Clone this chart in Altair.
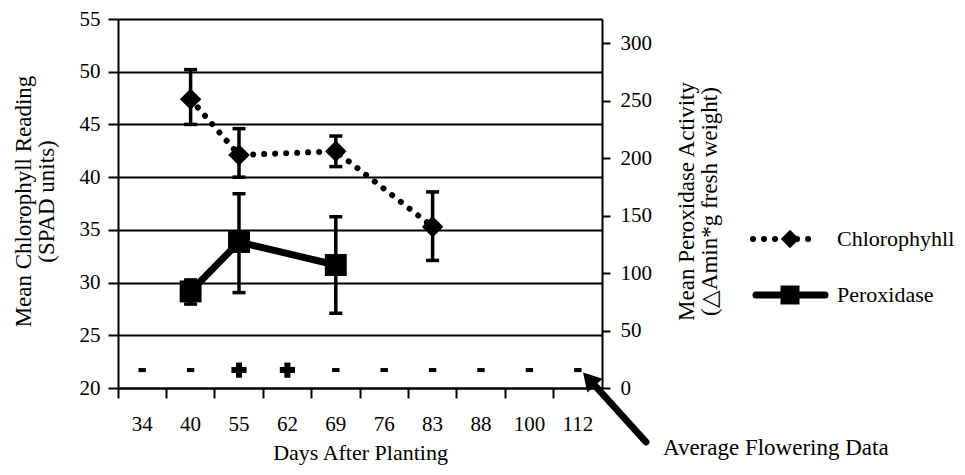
import altair as alt
import pandas as pd

# ---------------- data ----------------
days = ["34", "40", "55", "62", "69", "76", "83", "88", "100", "112"]
signs = ["-", "-", "+", "+", "-", "-", "-", "-", "-", "-"]
sign_level = 21.7

chl_days = ["40", "55", "69", "83"]
chl_mean = [47.4, 42.1, 42.45, 35.3]
chl_low = [45.0, 40.0, 41.0, 32.1]
chl_high = [50.2, 44.6, 43.9, 38.6]

per_days = ["40", "55", "69"]
per_mean = [84, 127, 107]
per_low = [73, 83, 65]
per_high = [94, 169, 149]

left_ticks = [20, 25, 30, 35, 40, 45, 50, 55]
right_ticks = [0, 50, 100, 150, 200, 250, 300]

chl_df = pd.DataFrame({"day": chl_days, "mean": chl_mean, "low": chl_low, "high": chl_high})
per_df = pd.DataFrame({"day": per_days, "mean": per_mean, "low": per_low, "high": per_high})
sign_df = pd.DataFrame({"day": days, "sign": signs, "level": [sign_level] * len(days)})
one = pd.DataFrame({"a": [0]})

FONT = "Liberation Serif"
BLACK = "black"

x_scale = alt.Scale(domain=days, paddingInner=0, paddingOuter=0)
x_axis = alt.Axis(
    bandPosition=0, tickSize=10, tickWidth=2, tickColor=BLACK,
    domainColor=BLACK, domainWidth=2, labelAngle=0, labelPadding=15,
    labelFont=FONT, labelFontSize=21, labelColor=BLACK,
    title="Days After Planting", titleFont=FONT, titleFontSize=22,
    titleFontWeight="normal", titleColor=BLACK, titlePadding=8, grid=False,
)
X = alt.X("day:N", scale=x_scale, axis=x_axis, sort=days)

left_scale = alt.Scale(domain=[20, 55], nice=False, zero=False)
left_axis = alt.Axis(
    orient="left", values=left_ticks, grid=True, gridColor=BLACK, gridWidth=1.8,
    gridOpacity=1, domainColor=BLACK, domainWidth=2, tickColor=BLACK, tickWidth=2,
    tickSize=10, labelPadding=8, labelFont=FONT, labelFontSize=21, labelColor=BLACK,
    title=["Mean Chlorophyll Reading", "(SPAD units)"], titleFont=FONT,
    titleFontSize=23, titleFontWeight="normal", titleColor=BLACK, titleAngle=270,
    titleBaseline="bottom", titleX=-83, titleY=182, titleLineHeight=23,
)
right_scale = alt.Scale(domain=[0, 321], nice=False, zero=False)
right_axis = alt.Axis(
    orient="right", values=right_ticks, grid=False, domainColor=BLACK, domainWidth=2,
    tickColor=BLACK, tickWidth=2, tickSize=8, labelPadding=10, labelFont=FONT,
    labelFontSize=21, labelColor=BLACK,
    title=["Mean Peroxidase Activity", "(\u25b3Amin*g fresh weight)"],
    titleFont=FONT, titleFontSize=23, titleFontWeight="normal", titleColor=BLACK,
    titleAngle=270, titleBaseline="top", titleX=73, titleY=182, titleLineHeight=23,
)

YL = alt.Y("mean:Q", scale=left_scale, axis=left_axis)

# ---------------- chlorophyll (left axis) ----------------
chl_base = alt.Chart(chl_df)
chl_line = chl_base.mark_line(color=BLACK, strokeWidth=6, strokeDash=[0.01, 11], strokeCap="round").encode(x=X, y=YL)
chl_err = chl_base.mark_rule(color=BLACK, strokeWidth=3.5).encode(
    x=X, y=alt.Y("low:Q", scale=left_scale, axis=left_axis), y2="high:Q")
chl_cap_lo = chl_base.mark_tick(color=BLACK, size=13, thickness=3.5, orient="horizontal", opacity=1).encode(
    x=X, y=alt.Y("low:Q", scale=left_scale, axis=left_axis))
chl_cap_hi = chl_base.mark_tick(color=BLACK, size=13, thickness=3.5, orient="horizontal", opacity=1).encode(
    x=X, y=alt.Y("high:Q", scale=left_scale, axis=left_axis))
chl_pts = chl_base.mark_point(shape="diamond", filled=True, color=BLACK, opacity=1, size=460).encode(x=X, y=YL)

signs_layer = alt.Chart(sign_df).mark_point(filled=True, color=BLACK, opacity=1).encode(
    x=X,
    y=alt.Y("level:Q", scale=left_scale, axis=left_axis),
    shape=alt.Shape("sign:N", scale=alt.Scale(domain=["+", "-"], range=["cross", "M-1,-0.55L1,-0.55L1,0.55L-1,0.55Z"]), legend=None),
    size=alt.Size("sign:N", scale=alt.Scale(domain=["+", "-"], range=[230, 55]), legend=None),
)

chl_group = alt.layer(chl_line, chl_err, chl_cap_lo, chl_cap_hi, chl_pts, signs_layer)

# ---------------- peroxidase (right axis) ----------------
YR = alt.Y("mean:Q", scale=right_scale, axis=right_axis)
per_base = alt.Chart(per_df)
per_line = per_base.mark_line(color=BLACK, strokeWidth=7).encode(x=X, y=YR)
per_err = per_base.mark_rule(color=BLACK, strokeWidth=3.5).encode(
    x=X, y=alt.Y("low:Q", scale=right_scale, axis=right_axis), y2="high:Q")
per_cap_lo = per_base.mark_tick(color=BLACK, size=13, thickness=3.5, orient="horizontal", opacity=1).encode(
    x=X, y=alt.Y("low:Q", scale=right_scale, axis=right_axis))
per_cap_hi = per_base.mark_tick(color=BLACK, size=13, thickness=3.5, orient="horizontal", opacity=1).encode(
    x=X, y=alt.Y("high:Q", scale=right_scale, axis=right_axis))
per_pts = per_base.mark_point(shape="square", filled=True, color=BLACK, opacity=1, size=480).encode(x=X, y=YR)
per_group = alt.layer(per_line, per_err, per_cap_lo, per_cap_hi, per_pts)

# ---------------- legend & annotation ----------------
ann = alt.Chart(one)
leg1_line = ann.mark_rule(color=BLACK, strokeWidth=6, strokeDash=[0.01, 11], strokeCap="round").encode(
    x=alt.value(635), x2=alt.value(701), y=alt.value(220))
leg1_pt = ann.mark_point(shape="diamond", filled=True, color=BLACK, opacity=1, size=340).encode(
    x=alt.value(672), y=alt.value(220))
leg1_txt = ann.mark_text(align="left", baseline="middle", font=FONT, fontSize=22, color=BLACK).encode(
    x=alt.value(719), y=alt.value(220), text=alt.value("Chlorophyhll"))
leg2_line = ann.mark_rule(color=BLACK, strokeWidth=7, strokeCap="round").encode(
    x=alt.value(638), x2=alt.value(707), y=alt.value(276))
leg2_pt = ann.mark_point(shape="square", filled=True, color=BLACK, opacity=1, size=360).encode(
    x=alt.value(672), y=alt.value(276))
leg2_txt = ann.mark_text(align="left", baseline="middle", font=FONT, fontSize=22, color=BLACK).encode(
    x=alt.value(719), y=alt.value(276), text=alt.value("Peroxidase"))

arrow_shaft = ann.mark_rule(color=BLACK, strokeWidth=7, strokeCap="round").encode(
    x=alt.value(471), y=alt.value(360), x2=alt.value(528), y2=alt.value(423))
arrow_head = ann.mark_point(shape="triangle-up", filled=True, color=BLACK, opacity=1, size=420, angle=318).encode(
    x=alt.value(471), y=alt.value(360))
arrow_txt = ann.mark_text(align="left", baseline="middle", font=FONT, fontSize=23, color=BLACK).encode(
    x=alt.value(545), y=alt.value(429), text=alt.value("Average Flowering Data"))

ann_group = alt.layer(leg1_line, leg1_pt, leg1_txt, leg2_line, leg2_pt, leg2_txt,
                      arrow_shaft, arrow_head, arrow_txt)

chart = alt.layer(chl_group, per_group, ann_group).resolve_scale(y="independent").properties(
    width=484, height=369,
    autosize=alt.AutoSizeParams(type="none"),
    padding={"left": 110, "top": 11, "right": 355, "bottom": 79},
    background="white",
).configure_view(strokeWidth=0)

chart.save("out.html", embed_options={"renderer": "svg", "actions": False})
